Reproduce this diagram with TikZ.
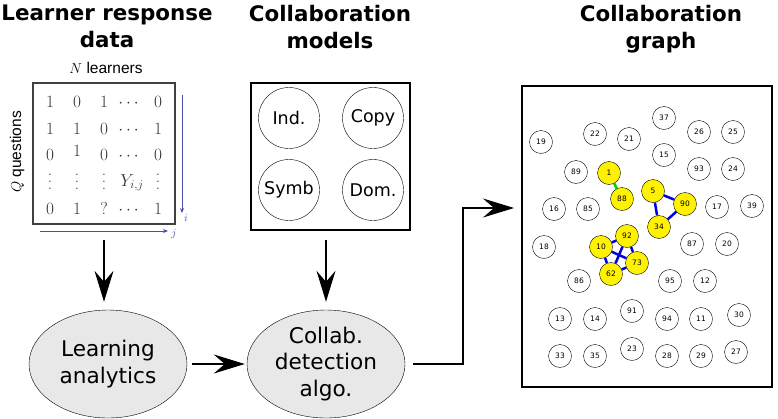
\documentclass[tikz,border=0pt]{standalone}
\usepackage{amsmath}
\usepackage{fontspec}
\usetikzlibrary{shapes.geometric,arrows.meta}
\newfontfamily\dvs{DejaVu Sans}
\newfontfamily\lsans{Liberation Sans}
\definecolor{idxblue}{RGB}{70,80,170}
\definecolor{framegray}{RGB}{64,64,64}
\definecolor{linkblue}{RGB}{0,0,225}
\definecolor{linkgreen}{RGB}{0,210,0}
\newcommand\tallvdots{\vbox{\baselineskip=7pt\lineskiplimit=0pt\hbox{.}\hbox{.}\hbox{.}}}

\begin{document}
\begin{tikzpicture}[x=1pt,y=-1pt,
  title/.style={font=\dvs\bfseries\fontsize{21.4}{27}\selectfont,align=center,anchor=north,inner sep=0},
  entry/.style={font=\fontsize{17}{17}\selectfont,text=black!80,inner sep=0,anchor=base},
  axislab/.style={font=\lsans\fontsize{15.5}{16}\selectfont,inner sep=0},
  model/.style={circle,draw,minimum size=61,inner sep=0,font=\dvs\fontsize{17.5}{20}\selectfont},
  stage/.style={ellipse,draw,fill=gray!18,minimum width=158,minimum height=108,inner sep=0,align=center,font=\dvs\fontsize{21.6}{26.5}\selectfont},
  gnode/.style={circle,draw,minimum size=23,inner sep=0,font=\dvs\fontsize{7.5}{8}\selectfont},
  hit/.style={gnode,fill=yellow},
  big/.style={line width=1.5pt,-{Stealth[length=31pt,width=19pt,inset=11pt]}},
  idx/.style={draw=idxblue,line width=0.8pt,-{Stealth[length=5pt,width=4pt]}},
  idxlab/.style={text=idxblue,inner sep=0,font=\fontsize{11}{11}\selectfont},
  bluelink/.style={draw=linkblue,line width=2.5pt},
  greenlink/.style={draw=linkgreen,line width=2.5pt}]
\useasboundingbox (0,0) rectangle (778,418);

% titles
\node[title] (t1) at (107,5) {Learner response\\data};
\node[title] (t2) at (330,5) {Collaboration\\models};
\node[title] (t3) at (661,5) {Collaboration\\graph};

% response matrix
\node[draw=framegray,line width=2pt,minimum width=142,minimum height=141] (mat) at (104,153.5) {};
\node[axislab,anchor=base] (nlab) at (106,73) {$N$ learners};
\node[axislab,rotate=90] (qlab) at (17,152) {$Q$ questions};
\node[entry] (m11) at (50,107) {$1$};
\node[entry] (m12) at (77,107) {$0$};
\node[entry] (m13) at (104,107) {$1$};
\node[entry] (m14) at (130,107) {$\cdots$};
\node[entry] (m15) at (158,107) {$0$};
\node[entry] (m21) at (50,134) {$1$};
\node[entry] (m22) at (77,134) {$1$};
\node[entry] (m23) at (104,134) {$0$};
\node[entry] (m24) at (130,134) {$\cdots$};
\node[entry] (m25) at (158,134) {$1$};
\node[entry] (m31) at (50,160) {$0$};
\node[entry] (m32) at (77,156) {$1$};
\node[entry] (m33) at (104,160) {$0$};
\node[entry] (m34) at (130,160) {$\cdots$};
\node[entry] (m35) at (158,160) {$0$};
\node[entry] (m41) at (50,189) {\tallvdots};
\node[entry] (m42) at (77,189) {\tallvdots};
\node[entry] (m43) at (104,189) {\tallvdots};
\node[entry] (m44) at (132,186) {$Y_{i,j}$};
\node[entry] (m45) at (158,189) {\tallvdots};
\node[entry] (m51) at (50,214) {$0$};
\node[entry] (m52) at (77,214) {$1$};
\node[entry] (m53) at (104,214) {$?$};
\node[entry] (m54) at (130,214) {$\cdots$};
\node[entry] (m55) at (158,214) {$1$};
\coordinate (ia) at (182,95);
\coordinate (ib) at (182,213);
\coordinate (ja) at (40,231);
\coordinate (jb) at (168,231);
\draw[idx] (ia) -- (ib);
\draw[idx] (ja) -- (jb);
\node[idxlab] (ilab) at (186,218) {$i$};
\node[idxlab] (jlab) at (174,234) {$j$};

% collaboration models
\node[draw,line width=2pt,minimum width=159,minimum height=147] (models) at (330.5,156.5) {};
\node[model] (ind) at (289,118) {Ind.};
\node[model] (copy) at (373,118) {Copy};
\node[model] (symb) at (289,190) {Symb};
\node[model] (dom) at (373,190) {Dom.};

% processing stages
\node[stage] (la) at (108,364) {Learning\\analytics};
\node[stage] (detect) at (326,364) {Collab.\\detection\\algo.};

% collaboration graph
\node[draw,line width=2pt,minimum width=250,minimum height=301] (graph) at (647,236.5) {};
\node[gnode] (n19) at (541,142) {19};
\node[gnode] (n22) at (595,134) {22};
\node[gnode] (n21) at (629,139) {21};
\node[gnode] (n37) at (664,118) {37};
\node[gnode] (n26) at (699,132) {26};
\node[gnode] (n25) at (733,132) {25};
\node[gnode] (n15) at (664,155) {15};
\node[gnode] (n93) at (699,169) {93};
\node[gnode] (n24) at (733,169) {24};
\node[gnode] (n89) at (576,172) {89};
\node[hit] (n1) at (609,173) {1};
\node[hit] (n88) at (622,199) {88};
\node[hit] (n5) at (653,191) {5};
\node[hit] (n90) at (685,204) {90};
\node[hit] (n34) at (659,227) {34};
\node[gnode] (n16) at (554,209) {16};
\node[gnode] (n85) at (588,209) {85};
\node[gnode] (n17) at (717,207) {17};
\node[gnode] (n39) at (752,206) {39};
\node[gnode] (n18) at (544,247) {18};
\node[hit] (n92) at (627,236) {92};
\node[hit] (n10) at (601,247) {10};
\node[hit] (n73) at (637,263) {73};
\node[hit] (n62) at (611,274) {62};
\node[gnode] (n87) at (692,244) {87};
\node[gnode] (n20) at (727,244) {20};
\node[gnode] (n86) at (579,281) {86};
\node[gnode] (n95) at (670,281) {95};
\node[gnode] (n12) at (705,281) {12};
\node[gnode] (n13) at (560,319) {13};
\node[gnode] (n14) at (595,319) {14};
\node[gnode] (n91) at (632,311) {91};
\node[gnode] (n94) at (667,319) {94};
\node[gnode] (n11) at (701,319) {11};
\node[gnode] (n30) at (739,315) {30};
\node[gnode] (n33) at (560,356) {33};
\node[gnode] (n35) at (595,356) {35};
\node[gnode] (n23) at (632,349) {23};
\node[gnode] (n28) at (667,356) {28};
\node[gnode] (n29) at (701,356) {29};
\node[gnode] (n27) at (736,352) {27};
\draw[greenlink] (n1) -- (n88);
\draw[bluelink] (n5) -- (n90);
\draw[bluelink] (n5) -- (n34);
\draw[bluelink] (n34) -- (n90);
\draw[bluelink] (n10) -- (n92);
\draw[bluelink] (n92) -- (n73);
\draw[bluelink] (n73) -- (n62);
\draw[bluelink] (n62) -- (n10);
\draw[bluelink] (n10) -- (n73);
\draw[bluelink] (n92) -- (n62);

% flow
\draw[big,shorten <=15pt,shorten >=8pt] (mat.south) -- (mat.south |- la.north);
\draw[big,shorten <=9pt,shorten >=8pt] (detect.north |- models.south) -- (detect.north);
\draw[big,shorten <=5pt,shorten >=2pt] (la) -- (detect);
\coordinate (bend) at (463,208);
\draw[big,shorten <=8pt,shorten >=7pt] (detect.east) -| (bend) -- (bend -| graph.west);
\end{tikzpicture}
\end{document}
